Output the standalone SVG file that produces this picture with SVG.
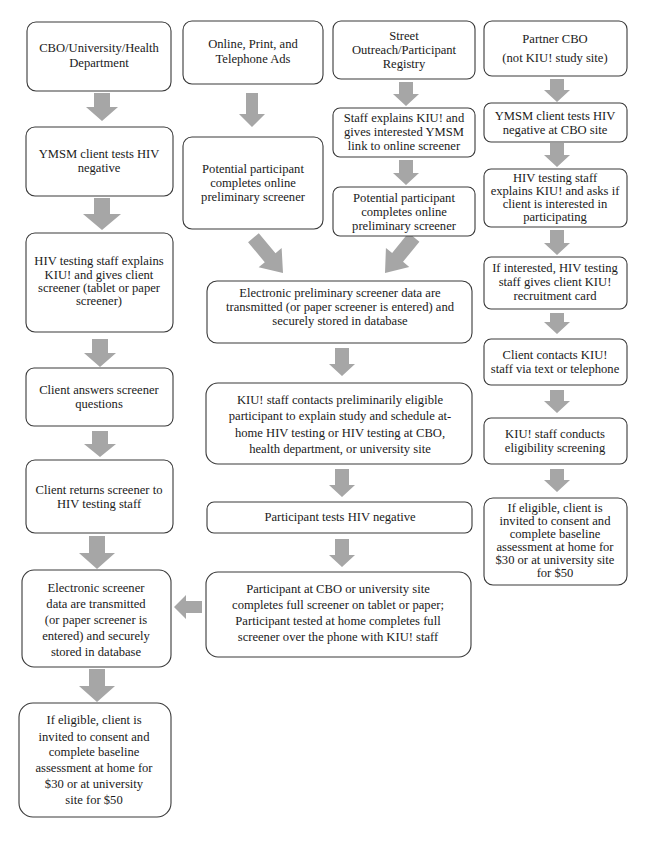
<svg xmlns="http://www.w3.org/2000/svg" width="650" height="843" viewBox="0 0 650 843">
<style>
.box{fill:#fff;stroke:#3a3a3a;stroke-width:1.1}
text{font-family:'Liberation Serif','Times New Roman',Tinos,'DejaVu Serif',serif;font-size:12.6px;fill:#1a1a1a;text-anchor:middle}
.arr{fill:#a6a6a6}
</style>
<defs>
<path id="diag" d="M-7,-46 H7 V-20 H15 L0,0 L-15,-20 H-7 Z"/>
</defs>
<rect width="650" height="843" fill="#fff"/>
<g id="connectors">
<path class="arr" d="M94,93 H110 V107 H118 L102,121 L86,107 H94 Z"/>
<path class="arr" d="M94,198 H110 V214 H121 L102,230 L83,214 H94 Z"/>
<path class="arr" d="M92,339 H108 V353 H116 L100,367 L84,353 H92 Z"/>
<path class="arr" d="M92,431 H108 V444 H116 L100,457 L84,444 H92 Z"/>
<path class="arr" d="M89,536 H105 V553 H115 L97,569 L79,553 H89 Z"/>
<path class="arr" d="M89,669 H105 V686 H115 L97,702 L79,686 H89 Z"/>
<path class="arr" d="M246,93 H258 V114 H265 L252,127 L239,114 H246 Z"/>
<path class="arr" d="M399,82 H413 V94 H419 L406,106 L393,94 H399 Z"/>
<path class="arr" d="M399,160 H413 V173 H419 L406,185 L393,173 H399 Z"/>
<path class="arr" d="M550,79 H564 V90 H570 L557,102 L544,90 H550 Z"/>
<path class="arr" d="M550,143 H564 V155 H570 L557,167 L544,155 H550 Z"/>
<path class="arr" d="M550,230 H564 V243 H570 L557,255 L544,243 H550 Z"/>
<path class="arr" d="M550,313 H564 V322 H570 L557,334 L544,322 H550 Z"/>
<path class="arr" d="M550,390 H564 V401 H570 L557,413 L544,401 H550 Z"/>
<path class="arr" d="M550,469 H564 V480 H570 L557,492 L544,480 H550 Z"/>
<path class="arr" d="M335,348 H349 V364 H355 L342,376 L329,364 H335 Z"/>
<path class="arr" d="M335,469 H349 V485 H355 L342,497 L329,485 H335 Z"/>
<path class="arr" d="M335,539 H349 V555 H355 L342,567 L329,555 H335 Z"/>
<path class="arr" d="M202,601 V613 H186 V619 L174,607 L186,595 V601 Z"/>
<use href="#diag" class="arr" transform="translate(283,273) rotate(-40)"/>
<use href="#diag" class="arr" transform="translate(385,273) rotate(39)"/>
</g>
<g id="n1"><rect class="box" x="27" y="22" width="144" height="69" rx="9"/>
<text x="99" y="52">CBO/University/Health</text><text x="99" y="67">Department</text></g>
<g id="n2"><rect class="box" x="183" y="21" width="140" height="63" rx="9"/>
<text x="253" y="48">Online, Print, and</text><text x="253" y="63">Telephone Ads</text></g>
<g id="n3"><rect class="box" x="333" y="21" width="142" height="58" rx="8"/>
<text x="404" y="40">Street</text><text x="404" y="54">Outreach/Participant</text><text x="404" y="68">Registry</text></g>
<g id="n4"><rect class="box" x="484" y="21" width="143" height="55" rx="8"/>
<text x="555" y="43">Partner CBO</text><text x="555" y="62">(not KIU! study site)</text></g>
<g id="n5"><rect class="box" x="26" y="127" width="147" height="69" rx="9"/>
<text x="99" y="158">YMSM client tests HIV</text><text x="99" y="172">negative</text></g>
<g id="n6"><rect class="box" x="183" y="137" width="140" height="92" rx="9"/>
<text x="253" y="173">Potential participant</text><text x="253" y="187">completes online</text><text x="253" y="201">preliminary screener</text></g>
<g id="n7"><rect class="box" x="333" y="108" width="142" height="49" rx="7"/>
<text x="404" y="122">Staff explains KIU! and</text><text x="404" y="136">gives interested YMSM</text><text x="404" y="150">link to online screener</text></g>
<g id="n8"><rect class="box" x="484" y="103" width="143" height="39" rx="7"/>
<text x="555" y="120">YMSM client tests HIV</text><text x="555" y="134">negative at CBO site</text></g>
<g id="n9"><rect class="box" x="333" y="187" width="142" height="49" rx="7"/>
<text x="404" y="202">Potential participant</text><text x="404" y="216">completes online</text><text x="404" y="230">preliminary screener</text></g>
<g id="n10"><rect class="box" x="484" y="169" width="143" height="58" rx="7"/>
<text x="555" y="182">HIV testing staff</text><text x="555" y="195">explains KIU! and asks if</text><text x="555" y="208">client is interested in</text><text x="555" y="221">participating</text></g>
<g id="n11"><rect class="box" x="26" y="233" width="147" height="99" rx="9"/>
<text x="99" y="265">HIV testing staff explains</text><text x="99" y="279">KIU! and gives client</text><text x="99" y="292">screener (tablet or paper</text><text x="99" y="305">screener)</text></g>
<g id="n12"><rect class="box" x="484" y="257" width="143" height="52" rx="7"/>
<text x="555" y="272">If interested, HIV testing</text><text x="555" y="286">staff gives client KIU!</text><text x="555" y="300">recruitment card</text></g>
<g id="n13"><rect class="box" x="207" y="281" width="265" height="62" rx="10"/>
<text x="340" y="297">Electronic preliminary screener data are</text><text x="340" y="311">transmitted (or paper screener is entered) and</text><text x="340" y="325">securely stored in database</text></g>
<g id="n14"><rect class="box" x="26" y="368" width="147" height="58" rx="8"/>
<text x="99" y="394">Client answers screener</text><text x="99" y="408">questions</text></g>
<g id="n15"><rect class="box" x="484" y="339" width="143" height="46" rx="7"/>
<text x="555" y="359">Client contacts KIU!</text><text x="555" y="373">staff via text or telephone</text></g>
<g id="n16"><rect class="box" x="206" y="383" width="266" height="81" rx="12"/>
<text x="340" y="404">KIU! staff contacts preliminarily eligible</text><text x="340" y="420">participant to explain study and schedule at-</text><text x="340" y="437">home HIV testing or HIV testing at CBO,</text><text x="340" y="453">health department, or university site</text></g>
<g id="n17"><rect class="box" x="484" y="418" width="143" height="46" rx="7"/>
<text x="555" y="438">KIU! staff conducts</text><text x="555" y="452">eligibility screening</text></g>
<g id="n18"><rect class="box" x="26" y="460" width="147" height="73" rx="9"/>
<text x="99" y="494">Client returns screener to</text><text x="99" y="508">HIV testing staff</text></g>
<g id="n19"><rect class="box" x="484" y="498" width="143" height="87" rx="9"/>
<text x="555" y="512">If eligible, client is</text><text x="555" y="525">invited to consent and</text><text x="555" y="538">complete baseline</text><text x="555" y="551">assessment at home for</text><text x="555" y="564">$30 or at university site</text><text x="555" y="577">for $50</text></g>
<g id="n20"><rect class="box" x="207" y="502" width="265" height="31" rx="7"/>
<text x="340" y="521">Participant tests HIV negative</text></g>
<g id="n21"><rect class="box" x="22" y="570" width="149" height="97" rx="12"/>
<text x="96" y="592">Electronic screener</text><text x="96" y="608">data are transmitted</text><text x="96" y="624">(or paper screener is</text><text x="96" y="640">entered) and securely</text><text x="96" y="656">stored in database</text></g>
<g id="n22"><rect class="box" x="206" y="572" width="265" height="85" rx="12"/>
<text x="338" y="593">Participant at CBO or university site</text><text x="338" y="609">completes full screener on tablet or paper;</text><text x="338" y="625">Participant tested at home completes full</text><text x="338" y="641">screener over the phone with KIU! staff</text></g>
<g id="n23"><rect class="box" x="19" y="703" width="152" height="114" rx="14"/>
<text x="94" y="724">If eligible,  client is</text><text x="94" y="741">invited to consent and</text><text x="94" y="756">complete baseline</text><text x="94" y="772">assessment at home for</text><text x="94" y="788">$30 or at university</text><text x="94" y="804">site for $50</text></g>
</svg>
